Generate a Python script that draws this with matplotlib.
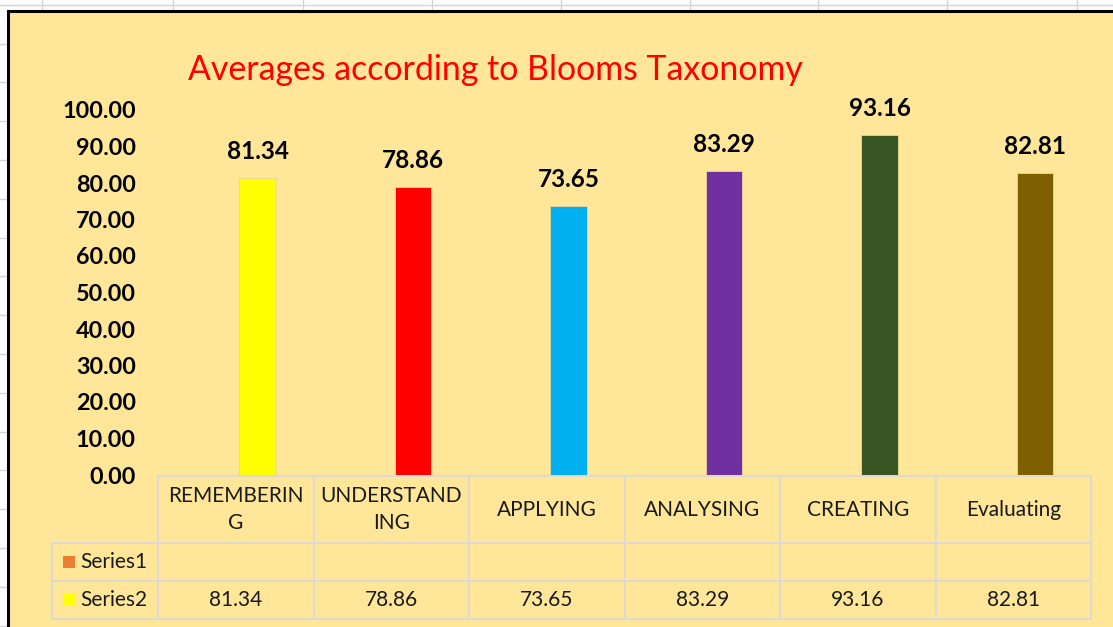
import matplotlib
matplotlib.use("Agg")
import matplotlib.pyplot as plt
from matplotlib.lines import Line2D
from matplotlib.patches import Rectangle
import matplotlib.transforms as mtransforms

plt.rcParams['font.family'] = ['Lato', 'DejaVu Sans']

categories = ["REMEMBERIN\nG", "UNDERSTAND\nING", "APPLYING", "ANALYSING", "CREATING", "Evaluating"]
series2 = [81.34, 78.86, 73.65, 83.29, 93.16, 82.81]
series1 = [None, None, None, None, None, None]
bar_colors = ["#FFFF00", "#FF0000", "#00B0F0", "#7030A0", "#375623", "#7F6000"]
yticks = [0, 10, 20, 30, 40, 50, 60, 70, 80, 90, 100]

W, H = 1113, 627
fig = plt.figure(figsize=(W / 100, H / 100), dpi=100)
fig.patch.set_facecolor("white")


def px(x, y):
    return x / W, 1 - y / H


# spreadsheet grid behind the chart
grid_c = "#D4D4D4"
for gx in [42, 173, 303, 432, 561, 690, 818, 947, 1077]:
    fig.add_artist(Line2D([gx / W, gx / W], [1, 1 - 11 / H], color=grid_c, lw=1, zorder=-3))
fig.add_artist(Line2D([0, 1], [1 - 5 / H] * 2, color=grid_c, lw=1, zorder=-3))
for k in range(16):
    gy = 43.5 + 38.8 * k
    fig.add_artist(Line2D([0, 8 / W], [1 - gy / H] * 2, color=grid_c, lw=1, zorder=-3))

# chart area
x0, y0 = px(8, 11)
fig.add_artist(Rectangle((x0, -0.05), 1.1, y0 + 0.05, facecolor="#FFE699",
                         edgecolor="black", lw=2.2, transform=fig.transFigure, zorder=-2))

# plot area
l, t = px(158, 110)
r, b = px(1091, 475)
ax = fig.add_axes([l, b, r - l, t - b])
ax.set_facecolor("none")
x = list(range(len(categories)))
bw = 0.235
# Series1 is empty, so Series2 sits in the right half of each cluster
x2 = [xi + bw * 0.6 for xi in x]
bars = ax.bar(x2, series2, width=bw, color=bar_colors, edgecolor="#E8D89A", lw=0.6)
ax.set_xlim(-0.5, len(categories) - 0.5)
ax.set_ylim(0, 100)
ax.set_yticks(yticks)
ax.set_yticklabels([f"{v:.2f}" for v in yticks], fontsize=16.8, fontweight="bold")
ax.tick_params(axis="y", length=0, pad=16)
ax.set_xticks([])
for s in ax.spines.values():
    s.set_visible(False)

for xi, v in zip(x2, series2):
    ax.annotate(f"{v:.2f}", (xi, v), xytext=(0, 13.5), textcoords="offset points",
                ha="center", va="baseline", fontsize=17.5, fontweight="bold")

fig.text(0.5 * (187 + 803) / W, 1 - 70 / H, "Averages according to Blooms Taxonomy",
         color="#FF0000", fontsize=24.4, ha="center", va="center")

# data table under the plot
tr = mtransforms.blended_transform_factory(ax.transData, ax.transAxes)
ah = 365.0
def fy(ypx):
    return (475 - ypx) / ah

line_c = "#D9D9D9"
lx = -0.5 - 106 / 155.5
rows = [476, 543, 581, 619]
xr = len(categories) - 0.5
kw = dict(color=line_c, lw=1.3, transform=tr, clip_on=False)
ax.add_line(Line2D([-0.5, xr], [fy(476)] * 2, **kw))
for yy in rows[1:]:
    ax.add_line(Line2D([lx, xr], [fy(yy)] * 2, **kw))
for i in range(len(categories) + 1):
    ax.add_line(Line2D([i - 0.5] * 2, [fy(476), fy(619)], **kw))
ax.add_line(Line2D([lx] * 2, [fy(543), fy(619)], **kw))

for xi, c in zip(x, categories):
    ax.text(xi, fy(509.5), c, transform=tr, ha="center", va="center",
            fontsize=15, color="#1a1a1a", linespacing=1.45)
for xi, v in zip(x, series2):
    ax.text(xi, fy(600), f"{v:.2f}", transform=tr, ha="center", va="center",
            fontsize=15, color="#1a1a1a")

legend_rows = [("Series1", "#ED7D31", 562), ("Series2", "#FFFF00", 600)]
for name, col, yy in legend_rows:
    fig.add_artist(Rectangle(px(63, yy + 6), 12 / W, 12 / H, facecolor=col,
                             edgecolor="none", transform=fig.transFigure))
    fig.text(80 / W, 1 - yy / H, name, ha="left", va="center", fontsize=15,
             color="#1a1a1a")

fig.savefig("out.png", dpi=100, facecolor=fig.get_facecolor())
plt.close(fig)
